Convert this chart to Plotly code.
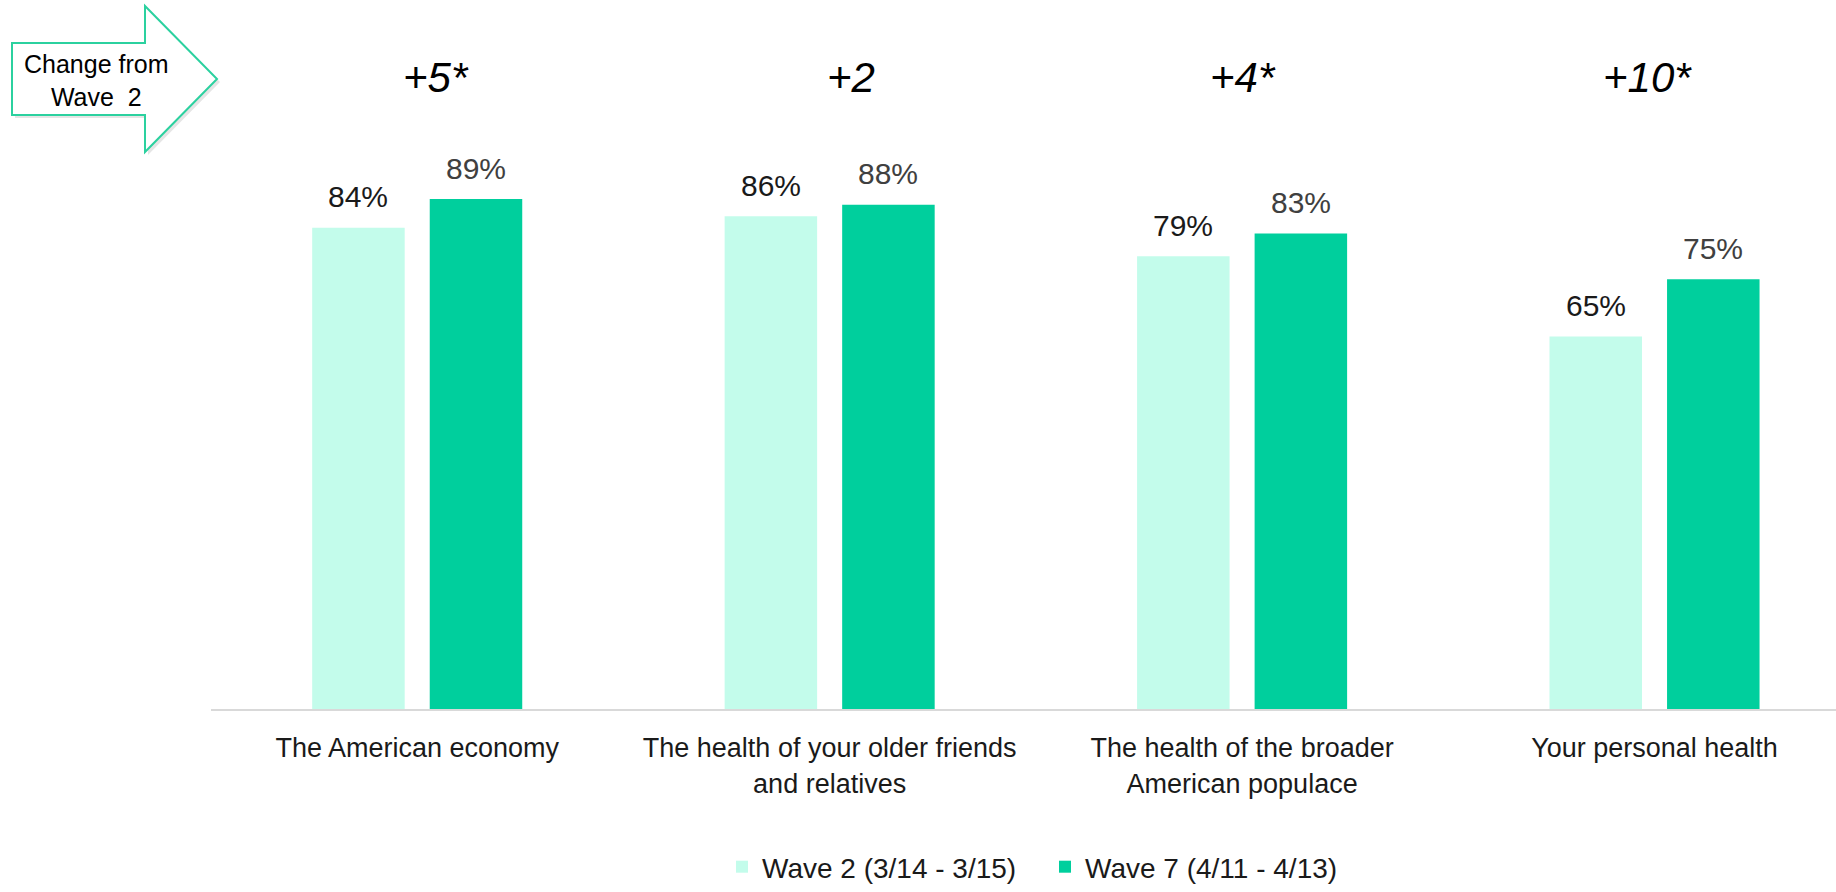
import plotly.graph_objects as go

categories = [
    "The American economy",
    "The health of your older friends<br>and relatives",
    "The health of the broader<br>American populace",
    "Your personal health",
]
wave2 = [84, 86, 79, 65]
wave7 = [89, 88, 83, 75]
significant = [True, False, True, True]
series_names = ["Wave 2 (3/14 - 3/15)", "Wave 7 (4/11 - 4/13)"]
colors = ["#C3FCEB", "#00CF9D"]
label_colors = ["#1a1a1a", "#404040"]
change_label_xshift = [19, 21, 1, -7]

W, H = 1836, 892
ML, MR, MT, MB = 211, 0, 136, 183
BARGAP = 0.43
GROUPGAP = 0.213
FONT = "Arial, Liberation Sans, Helvetica, sans-serif"

def px_x(px):
    return (px - ML) / (W - ML - MR)

def px_y(py):
    return (H - MB - py) / (H - MT - MB)

xs = list(range(len(categories)))
fig = go.Figure()
for name, vals, col in zip(series_names, [wave2, wave7], colors):
    fig.add_trace(go.Bar(x=xs, y=vals, name=name, marker_color=col,
                         marker_line_width=0))

slot = (1 - BARGAP) / 2
annotations = []
for s, vals in enumerate([wave2, wave7]):
    off = (s - 0.5) * slot
    for i, v in enumerate(vals):
        annotations.append(dict(x=i + off, y=v, xref="x", yref="y",
                                text=f"{v}%", showarrow=False, yanchor="middle",
                                yshift=31, font=dict(size=30, color=label_colors[s], family=FONT)))

for i, (a, b, sig) in enumerate(zip(wave2, wave7, significant)):
    d = b - a
    txt = f"<i>{'+' if d >= 0 else ''}{d}{'*' if sig else ''}</i>"
    annotations.append(dict(x=i, y=px_y(77.5), xref="x", yref="paper", text=txt,
                            showarrow=False, yanchor="middle",
                            xshift=change_label_xshift[i],
                            font=dict(size=42, color="#000000", family=FONT)))

# "Change from Wave 2" arrow callout
pts = [(12, 43), (145, 43), (145, 6), (217, 79), (145, 152), (145, 115), (12, 115)]
shadow = "M " + " L ".join(f"{px_x(x + 3):.5f},{px_y(y + 3):.5f}" for x, y in pts) + " Z"
path = "M " + " L ".join(f"{px_x(x):.5f},{px_y(y):.5f}" for x, y in pts) + " Z"
shapes = [
    dict(type="path", path=shadow, xref="paper", yref="paper",
         line=dict(color="rgba(0,0,0,0)", width=0), fillcolor="rgba(0,0,0,0.10)", layer="above"),
    dict(type="path", path=path, xref="paper", yref="paper",
         line=dict(color="#2BD19F", width=2), fillcolor="white", layer="above"),
]
annotations.append(dict(x=px_x(96), y=px_y(80), xref="paper", yref="paper",
                        text="Change from<br>Wave  2", showarrow=False,
                        xanchor="center", yanchor="middle",
                        font=dict(size=25, color="#000000", family=FONT)))

fig.update_layout(
    width=W, height=H,
    margin=dict(l=ML, r=MR, t=MT, b=MB, autoexpand=False),
    paper_bgcolor="white", plot_bgcolor="white",
    barmode="group", bargap=BARGAP, bargroupgap=GROUPGAP,
    font=dict(family=FONT, color="#1a1a1a"),
    xaxis=dict(tickmode="array", tickvals=xs, ticktext=categories,
               range=[-0.5, 3.44], showgrid=False, showline=True,
               linecolor="#d9d9d9", linewidth=2, ticks="", automargin=False,
               tickfont=dict(size=27, color="#1a1a1a", family=FONT),
               ticklabelstandoff=14),
    yaxis=dict(range=[0, 100], visible=False, showgrid=False, automargin=False),
    legend=dict(orientation="h", x=px_x(722), y=0, yref="container", xanchor="left",
                yanchor="bottom", font=dict(size=28, color="#1a1a1a", family=FONT),
                itemwidth=30, entrywidth=278, bgcolor="rgba(0,0,0,0)"),
    annotations=annotations,
    shapes=shapes,
)

fig.write_html("out.html")
